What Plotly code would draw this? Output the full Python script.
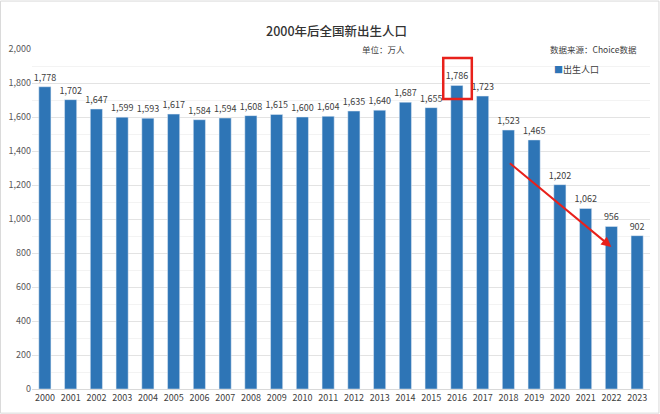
import plotly.graph_objects as go

years = [str(y) for y in range(2000, 2024)]
births = [1778, 1702, 1647, 1599, 1593, 1617, 1584, 1594, 1608, 1615, 1600, 1604,
          1635, 1640, 1687, 1655, 1786, 1723, 1523, 1465, 1202, 1062, 956, 902]
series_name = "出生人口"

font_cn = "Noto Sans CJK SC"
bar_color = "#2E75B6"
txt = "#404040"

fig = go.Figure()
fig.add_trace(go.Bar(x=years, y=births, name=series_name, marker_color=bar_color,
                     width=0.47, texttemplate="%{y:,}", textposition="outside",
                     constraintext="none", textfont=dict(size=9, color=txt),
                     cliponaxis=False, showlegend=False))

# highlight box around 2016 and the falling-trend arrow
fig.add_shape(type="rect", xref="x", yref="y", x0=15.47, x1=16.58, y0=1706, y1=1947,
              line=dict(color="#E8211B", width=2.5))
fig.add_annotation(x=22, y=835, ax=18, ay=1335, xref="x", yref="y", axref="x", ayref="y",
                   showarrow=True, arrowhead=2, arrowsize=1, arrowwidth=2, arrowcolor="#E8211B", text="")

# outer border
fig.add_shape(type="rect", xref="paper", yref="paper", x0=-0.0510, x1=1.0145, y0=-0.071, y1=1.141,
              line=dict(color="#D9D9D9", width=1))

fig.add_annotation(text="2000年后全国新出生人口", xref="paper", yref="paper", x=0.4935, y=1.0885,
                   showarrow=False, font=dict(size=12.5, color="#333333", weight=500))
fig.add_annotation(text="单位：万人", xref="paper", yref="paper", x=0.568, y=1.0235, showarrow=False,
                   font=dict(size=8.5, color=txt))
fig.add_annotation(text="数据来源：Choice数据", xref="paper", yref="paper", x=0.982, y=1.0235,
                   xanchor="right", showarrow=False, font=dict(size=8.5, color=txt))
# legend entry
fig.add_annotation(text=f"<span style='color:{bar_color}'>■</span>{series_name}", xref="paper", yref="paper",
                   x=0.841, y=0.965, xanchor="left", showarrow=False, font=dict(size=9, color=txt))

fig.update_layout(
    width=660, height=414, margin=dict(l=32, r=10, t=49, b=25),
    paper_bgcolor="white", plot_bgcolor="white",
    font=dict(family=font_cn, size=9, color="#595959"),
    showlegend=False,
    bargap=0.5,
    xaxis=dict(type="category", showgrid=False, showline=True, linecolor="#D9D9D9",
               ticks="", automargin=False, tickfont=dict(size=9, color=txt)),
    yaxis=dict(range=[0, 2000], dtick=200, tickformat=",", showgrid=True, gridcolor="#E3E3E3",
               zeroline=False, ticks="", automargin=False, tickfont=dict(size=9, color="#595959"),
               minor=dict(dtick=100, showgrid=True, gridcolor="#F3F3F3")),
)

fig.write_html("out.html", config={"displayModeBar": False},
               post_script="document.body.style.margin='0px';")
